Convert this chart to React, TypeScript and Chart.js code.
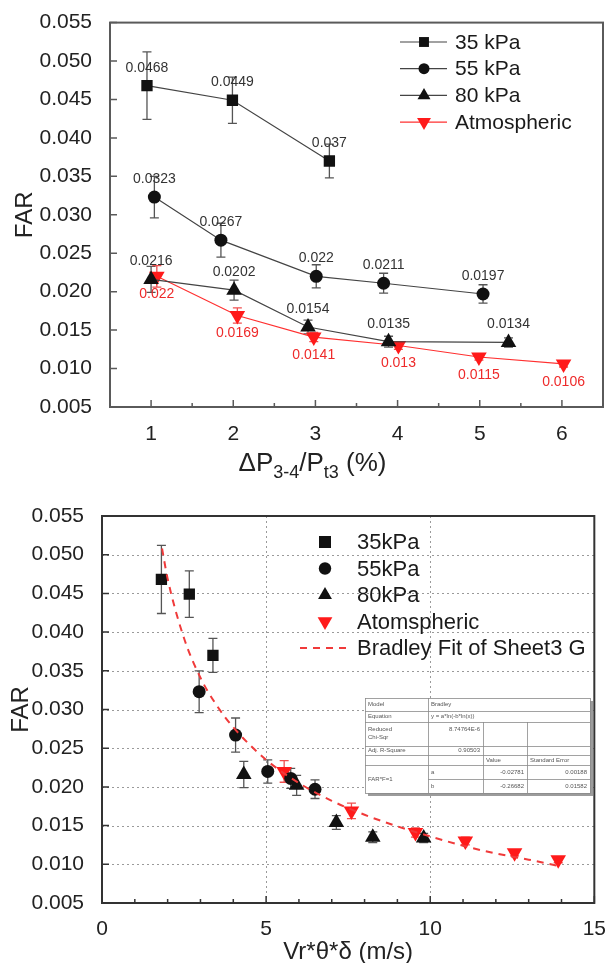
import React, { useEffect, useRef } from "react";
import { Chart, registerables } from "chart.js";

Chart.register(...registerables);

const FONT = '"Liberation Sans", Arial, Helvetica, sans-serif';

// ---- Upper panel: FAR vs. pressure-loss ratio ΔP3-4/Pt3 (%) ----
const dpRatio35 = [0.95, 1.99, 3.17];
const far35 = [0.0468, 0.0449, 0.037];
const err35 = [0.0044, 0.003, 0.0022];

const dpRatio55 = [1.04, 1.85, 3.01, 3.83, 5.04];
const far55 = [0.0323, 0.0267, 0.022, 0.0211, 0.0197];
const err55 = [0.0027, 0.0022, 0.0015, 0.0013, 0.0012];

const dpRatio80 = [1.0, 2.01, 2.91, 3.89, 5.35];
const far80 = [0.0216, 0.0202, 0.0154, 0.0135, 0.0134];
const err80 = [0.0017, 0.0013, 0.0009, 0.0007, 0.0006];

const dpRatioAtm = [1.07, 2.05, 2.98, 4.01, 4.99, 6.02];
const farAtm = [0.022, 0.0169, 0.0141, 0.013, 0.0115, 0.0106];
const errAtm = [0.0014, 0.001, 0.0006, 0.0005, 0.0004, 0.0004];

// ---- Lower panel: FAR vs. Vr*θ*δ (m/s) ----
const vel35 = [1.81, 2.66, 3.38];
const vel55 = [2.96, 4.07, 5.05, 5.75, 6.49];
const vel80 = [4.32, 5.93, 7.14, 8.25, 9.8];
const velAtm = [5.55, 7.6, 9.55, 11.07, 12.57, 13.9];

// Bradley fit curve, sampled along the plotted dashed line
const fitVel = [1.83, 2, 2.5, 3, 3.5, 4, 5, 6, 7, 8, 9, 10, 11, 12, 13, 13.9];
const fitFar = [0.0508, 0.0469, 0.0392, 0.0341, 0.0305, 0.0277, 0.0235, 0.0205, 0.0182, 0.0164, 0.0149, 0.0136, 0.0124, 0.0114, 0.0106, 0.0098];

// Axis ticks
const farTicks = [0.005, 0.01, 0.015, 0.02, 0.025, 0.03, 0.035, 0.04, 0.045, 0.05, 0.055];
const dpTicks = [1, 2, 3, 4, 5, 6];
const velTicks = [0, 5, 10, 15];
const velGrid = [5, 10];

// Series names
const topNames = ["35 kPa", "55 kPa", "80 kPa", "Atmospheric"];
const bottomNames = ["35kPa", "55kPa", "80kPa", "Atomspheric", "Bradley Fit of Sheet3 G"];

// Fit report
const fitModel = "Bradley";
const fitEquation = "y = a*ln(-b*ln(x))";
const fitChiSqr = "8.74764E-6";
const fitAdjR2 = "0.90503";
const fitDataName = "FAR*F=1";
const fitParams = ["a", "b"];
const fitValues = ["-0.02781", "-0.26682"];
const fitErrors = ["0.00188", "0.01582"];

const BLACK = "#111111";
const RED = "#ff1a1a";

type Shape = "rect" | "circle" | "triangle" | "triangleDown";

function drawMarker(ctx: CanvasRenderingContext2D, shape: Shape, x: number, y: number, r: number, color: string) {
  ctx.save();
  ctx.fillStyle = color;
  ctx.beginPath();
  if (shape === "rect") {
    const h = r * Math.SQRT1_2;
    ctx.rect(x - h, y - h, 2 * h, 2 * h);
  } else if (shape === "circle") {
    ctx.arc(x, y, r, 0, Math.PI * 2);
  } else {
    const rot = shape === "triangleDown" ? Math.PI : 0;
    for (let k = 0; k < 3; k++) {
      const a = rot + (k * 2 * Math.PI) / 3;
      const px = x + Math.sin(a) * r;
      const py = y - Math.cos(a) * r;
      if (k === 0) ctx.moveTo(px, py);
      else ctx.lineTo(px, py);
    }
  }
  ctx.closePath();
  ctx.fill();
  ctx.restore();
}

function shapeOf(ds: any): Shape {
  if (ds.pointStyle === "triangle" && ds.pointRotation === 180) return "triangleDown";
  return ds.pointStyle as Shape;
}

function series(
  label: string,
  xs: number[],
  ys: number[],
  errs: number[] | null,
  style: string,
  rotation: number,
  radius: number,
  color: string,
  lineColor: string,
  showLine: boolean,
  valueLabelPos: "above" | "below" | null
) {
  return {
    label,
    data: xs.map((x, i) => ({ x, y: ys[i] })),
    errors: errs,
    errorColor: color === RED ? "#f05050" : "#555555",
    valueLabelPos,
    valueLabelColor: color === RED ? "#ee2a2a" : "#333333",
    pointStyle: style,
    pointRotation: rotation,
    pointRadius: radius,
    pointHoverRadius: radius,
    pointBackgroundColor: color,
    pointBorderColor: color,
    pointBorderWidth: 0,
    borderColor: lineColor,
    backgroundColor: color,
    borderWidth: 1.2,
    showLine,
    tension: 0,
  };
}

// Error bars under every point of a dataset that carries an `errors` array
const errorBarPlugin = {
  id: "errorBars",
  beforeDatasetsDraw(chart: any) {
    const { ctx } = chart;
    const y = chart.scales.y;
    chart.data.datasets.forEach((ds: any, di: number) => {
      if (!ds.errors) return;
      const meta = chart.getDatasetMeta(di);
      ctx.save();
      ctx.strokeStyle = ds.errorColor;
      ctx.lineWidth = 1.3;
      meta.data.forEach((pt: any, i: number) => {
        const v = ds.data[i].y;
        const e = ds.errors[i];
        const top = y.getPixelForValue(v + e);
        const bot = y.getPixelForValue(v - e);
        ctx.beginPath();
        ctx.moveTo(pt.x, top);
        ctx.lineTo(pt.x, bot);
        ctx.moveTo(pt.x - 4.5, top);
        ctx.lineTo(pt.x + 4.5, top);
        ctx.moveTo(pt.x - 4.5, bot);
        ctx.lineTo(pt.x + 4.5, bot);
        ctx.stroke();
      });
      ctx.restore();
    });
  },
};

// Numeric value printed above / below each point
const valueLabelPlugin = {
  id: "valueLabels",
  afterDatasetsDraw(chart: any, _args: any, opts: any) {
    if (!opts || !opts.enabled) return;
    const { ctx } = chart;
    ctx.save();
    ctx.font = `${opts.fontSize}px ${FONT}`;
    ctx.textAlign = "center";
    ctx.textBaseline = "middle";
    chart.data.datasets.forEach((ds: any, di: number) => {
      if (!ds.valueLabelPos) return;
      const meta = chart.getDatasetMeta(di);
      ctx.fillStyle = ds.valueLabelColor;
      meta.data.forEach((pt: any, i: number) => {
        const dy = ds.valueLabelPos === "below" ? opts.offset : -opts.offset;
        ctx.fillText(String(ds.data[i].y), pt.x, pt.y + dy);
      });
    });
    ctx.restore();
  },
};

// Plot frame, inward ticks and optional dotted grid
const framePlugin = {
  id: "panelFrame",
  beforeDatasetsDraw(chart: any, _args: any, o: any) {
    const { ctx, chartArea: a } = chart;
    const xs = chart.scales.x;
    const ys = chart.scales.y;
    ctx.save();
    if (o.grid) {
      ctx.strokeStyle = "#9a9a9a";
      ctx.lineWidth = 1;
      ctx.setLineDash([2, 3]);
      ctx.beginPath();
      o.yGrid.forEach((v: number) => {
        const p = Math.round(ys.getPixelForValue(v)) + 0.5;
        ctx.moveTo(a.left, p);
        ctx.lineTo(a.right, p);
      });
      o.xGrid.forEach((v: number) => {
        const p = Math.round(xs.getPixelForValue(v)) + 0.5;
        ctx.moveTo(p, a.top);
        ctx.lineTo(p, a.bottom);
      });
      ctx.stroke();
      ctx.setLineDash([]);
    }
    ctx.strokeStyle = o.color;
    ctx.lineWidth = o.width;
    ctx.strokeRect(a.left, a.top, a.right - a.left, a.bottom - a.top);
    ctx.lineWidth = 1.5;
    ctx.beginPath();
    for (let v = xs.min; v <= xs.max + 1e-9; v += o.xMinor) {
      const p = xs.getPixelForValue(v);
      const major = o.xMajor.some((m: number) => Math.abs(m - v) < 1e-6);
      ctx.moveTo(p, a.bottom);
      ctx.lineTo(p, a.bottom - (major ? o.majorLen : o.minorLen));
    }
    o.yMajor.forEach((v: number) => {
      const p = ys.getPixelForValue(v);
      ctx.moveTo(a.left, p);
      ctx.lineTo(a.left + o.majorLen, p);
    });
    ctx.stroke();
    ctx.restore();
  },
};

// Axis titles (x title may carry subscripts)
const titlePlugin = {
  id: "axisTitles",
  afterDraw(chart: any, _args: any, o: any) {
    const { ctx, chartArea: a } = chart;
    ctx.save();
    ctx.fillStyle = "#222";
    ctx.font = `${o.size}px ${FONT}`;
    ctx.textBaseline = "middle";
    ctx.textAlign = "center";
    ctx.translate(o.yTitleX, (a.top + a.bottom) / 2);
    ctx.rotate(-Math.PI / 2);
    ctx.fillText(o.yTitle, 0, 0);
    ctx.restore();

    ctx.save();
    ctx.fillStyle = "#222";
    ctx.textBaseline = "alphabetic";
    ctx.textAlign = "left";
    const parts: { t: string; sub?: boolean }[] = o.xTitle;
    const xSize = o.xSize || o.size;
    const fontFor = (p: any) => `${p.sub ? o.subSize : xSize}px ${FONT}`;
    let total = 0;
    parts.forEach((p) => {
      ctx.font = fontFor(p);
      total += ctx.measureText(p.t).width;
    });
    let x = (a.left + a.right) / 2 - total / 2 + (o.xShift || 0);
    parts.forEach((p) => {
      ctx.font = fontFor(p);
      ctx.fillText(p.t, x, o.xTitleBaseline + (p.sub ? o.subDrop : 0));
      x += ctx.measureText(p.t).width;
    });
    ctx.restore();
  },
};

// Legend drawn inside the plot area
const legendPlugin = {
  id: "panelLegend",
  afterDraw(chart: any, _args: any, o: any) {
    const { ctx } = chart;
    ctx.save();
    ctx.font = `${o.fontSize}px ${FONT}`;
    ctx.textBaseline = "middle";
    ctx.textAlign = "left";
    o.entries.forEach((e: any, i: number) => {
      const ds = chart.data.datasets[e.ds];
      const y = o.top + i * o.rowH;
      if (e.line) {
        ctx.strokeStyle = ds.borderColor;
        ctx.lineWidth = e.lineWidth || 1.2;
        ctx.setLineDash(ds.borderDash || []);
        ctx.beginPath();
        ctx.moveTo(o.lineX0, y);
        ctx.lineTo(o.lineX1, y);
        ctx.stroke();
        ctx.setLineDash([]);
      }
      if (e.r > 0) drawMarker(ctx, shapeOf(ds), o.markerX, y, e.r, ds.pointBackgroundColor);
      ctx.fillStyle = "#1a1a1a";
      ctx.fillText(ds.label, o.textX, y + 1);
    });
    ctx.restore();
  },
};

// Fit report table inside the lower panel
const fitTablePlugin = {
  id: "fitTable",
  afterDatasetsDraw(chart: any, _args: any, o: any) {
    if (!o || !o.enabled) return;
    const { ctx, chartArea: a } = chart;
    const L = a.left + o.dx;
    const T = a.top + o.dy;
    const cols = [0, 63, 118, 162, 225].map((c) => L + c);
    const rows = [0, 13, 24, 48, 57, 67, 81, 95].map((r) => T + r);
    const R = cols[4];
    const B = rows[7];
    ctx.save();
    ctx.fillStyle = "#9c9c9c";
    ctx.fillRect(L + 3, T + 3, R - L, B - T);
    ctx.fillStyle = "#ffffff";
    ctx.fillRect(L, T, R - L, B - T);
    ctx.strokeStyle = "#8a8a8a";
    ctx.lineWidth = 0.8;
    ctx.strokeRect(L + 0.5, T + 0.5, R - L, B - T);
    ctx.beginPath();
    const h = (y: number, x0: number, x1: number) => { ctx.moveTo(x0, y + 0.5); ctx.lineTo(x1, y + 0.5); };
    const v = (x: number, y0: number, y1: number) => { ctx.moveTo(x + 0.5, y0); ctx.lineTo(x + 0.5, y1); };
    h(rows[1], L, R);
    h(rows[2], L, R);
    h(rows[3], L, R);
    h(rows[4], L, R);
    h(rows[5], L, R);
    h(rows[6], cols[1], R);
    v(cols[1], T, B);
    v(cols[2], rows[2], B);
    v(cols[3], rows[2], B);
    ctx.stroke();

    ctx.fillStyle = "#555";
    ctx.font = `6px ${FONT}`;
    ctx.textBaseline = "middle";
    const mid = (i: number) => (rows[i] + rows[i + 1]) / 2;
    const left = (t: string, x: number, y: number) => { ctx.textAlign = "left"; ctx.fillText(t, x + 3, y); };
    const right = (t: string, x: number, y: number) => { ctx.textAlign = "right"; ctx.fillText(t, x - 3, y); };
    left("Model", cols[0], mid(0));
    left(fitModel, cols[1], mid(0));
    left("Equation", cols[0], mid(1));
    left(fitEquation, cols[1], mid(1));
    left("Reduced", cols[0], rows[2] + 7);
    left("Chi-Sqr", cols[0], rows[2] + 15);
    right(fitChiSqr, cols[2], rows[2] + 7);
    left("Adj. R-Square", cols[0], mid(3));
    right(fitAdjR2, cols[2], mid(3));
    left("Value", cols[2], mid(4));
    left("Standard Error", cols[3], mid(4));
    left(fitDataName, cols[0], (rows[5] + rows[7]) / 2);
    fitParams.forEach((p, i) => {
      left(p, cols[1], mid(5 + i));
      right(fitValues[i], cols[3], mid(5 + i));
      right(fitErrors[i], cols[4], mid(5 + i));
    });
    ctx.restore();
  },
};

const tickFont = { family: FONT, size: 21 };

function topConfig(): any {
  return {
    type: "scatter",
    data: {
      datasets: [
        series(topNames[0], dpRatio35, far35, err35, "rect", 0, 8, BLACK, "#444", true, "above"),
        series(topNames[1], dpRatio55, far55, err55, "circle", 0, 6.5, BLACK, "#444", true, "above"),
        series(topNames[2], dpRatio80, far80, err80, "triangle", 0, 9, BLACK, "#444", true, "above"),
        series(topNames[3], dpRatioAtm, farAtm, errAtm, "triangle", 180, 9, RED, "#ff3030", true, "below"),
      ],
    },
    options: {
      responsive: false,
      animation: false,
      devicePixelRatio: 1,
      layout: { padding: { top: 13, right: 9, left: 0, bottom: 0 } },
      plugins: {
        legend: { display: false },
        tooltip: { enabled: false },
        valueLabels: { enabled: true, fontSize: 14, offset: 18 },
        panelFrame: {
          color: "#5a5a5a", width: 2, grid: false,
          xMinor: 0.5, xMajor: dpTicks, yMajor: farTicks, majorLen: 7, minorLen: 4,
        },
        axisTitles: {
          size: 24, xSize: 26, subSize: 18, subDrop: 7, yTitle: "FAR", yTitleX: 25,
          xTitle: [{ t: "ΔP" }, { t: "3-4", sub: true }, { t: "/P" }, { t: "t3", sub: true }, { t: " (%)" }],
          xTitleBaseline: 471, xShift: -44,
        },
        panelLegend: {
          fontSize: 21, top: 42, rowH: 26.7, lineX0: 400, lineX1: 447, markerX: 424, textX: 455,
          entries: [
            { ds: 0, r: 7, line: true },
            { ds: 1, r: 5.5, line: true },
            { ds: 2, r: 7.5, line: true },
            { ds: 3, r: 8, line: true },
          ],
        },
      },
      scales: {
        x: {
          type: "linear", min: 0.5, max: 6.5,
          grid: { display: false }, border: { display: false },
          ticks: { font: tickFont, color: "#222", padding: 7, autoSkip: false, maxRotation: 0, callback: (v: any) => String(v) },
          afterBuildTicks: (s: any) => { s.ticks = dpTicks.map((value) => ({ value })); },
          afterFit: (s: any) => { s.height = 73; },
        },
        y: {
          type: "linear", min: 0.005, max: 0.055,
          grid: { display: false }, border: { display: false },
          ticks: { font: tickFont, color: "#222", padding: 10, autoSkip: false, callback: (v: any) => Number(v).toFixed(3) },
          afterBuildTicks: (s: any) => { s.ticks = farTicks.map((value) => ({ value })); },
          afterFit: (s: any) => { s.width = 110; },
        },
      },
    },
    plugins: [framePlugin, errorBarPlugin, valueLabelPlugin, titlePlugin, legendPlugin],
  };
}

function bottomConfig(): any {
  const fit = {
    label: bottomNames[4],
    data: fitVel.map((x, i) => ({ x, y: fitFar[i] })),
    showLine: true,
    borderColor: "#f03a3a",
    borderWidth: 2,
    borderDash: [7, 6],
    pointRadius: 0,
    pointStyle: false,
    cubicInterpolationMode: "monotone",
    errors: null,
  };
  return {
    type: "scatter",
    data: {
      datasets: [
        fit,
        series(bottomNames[0], vel35, far35, err35, "rect", 0, 8, BLACK, BLACK, false, null),
        series(bottomNames[1], vel55, far55, err55, "circle", 0, 6.5, BLACK, BLACK, false, null),
        series(bottomNames[2], vel80, far80, err80, "triangle", 0, 9, BLACK, BLACK, false, null),
        series(bottomNames[3], velAtm, farAtm, errAtm, "triangle", 180, 9, RED, RED, false, null),
      ],
    },
    options: {
      responsive: false,
      animation: false,
      devicePixelRatio: 1,
      layout: { padding: { top: 36, right: 14, left: 0, bottom: 0 } },
      plugins: {
        legend: { display: false },
        tooltip: { enabled: false },
        panelFrame: {
          color: "#333", width: 2, grid: true, yGrid: farTicks, xGrid: velGrid,
          xMinor: 1, xMajor: velTicks, yMajor: farTicks, majorLen: 7, minorLen: 4,
        },
        axisTitles: {
          size: 24, subSize: 16, subDrop: 6, yTitle: "FAR", yTitleX: 21,
          xTitle: [{ t: "Vr*θ*δ (m/s)" }],
          xTitleBaseline: 479,
        },
        panelLegend: {
          fontSize: 22, top: 62, rowH: 26.5, lineX0: 300, lineX1: 350, markerX: 325, textX: 357,
          entries: [
            { ds: 1, r: 8.5 },
            { ds: 2, r: 6.2 },
            { ds: 3, r: 8 },
            { ds: 4, r: 8.5 },
            { ds: 0, r: 0, line: true, lineWidth: 2 },
          ],
        },
        fitTable: { enabled: true, dx: 263, dy: 182 },
      },
      scales: {
        x: {
          type: "linear", min: 0, max: 15,
          grid: { display: false }, border: { display: false },
          ticks: { font: tickFont, color: "#222", padding: 6, autoSkip: false, maxRotation: 0, callback: (v: any) => String(v) },
          afterBuildTicks: (s: any) => { s.ticks = velTicks.map((value) => ({ value })); },
          afterFit: (s: any) => { s.height = 60; },
        },
        y: {
          type: "linear", min: 0.005, max: 0.055,
          grid: { display: false }, border: { display: false },
          ticks: { font: tickFont, color: "#222", padding: 10, autoSkip: false, callback: (v: any) => Number(v).toFixed(3) },
          afterBuildTicks: (s: any) => { s.ticks = farTicks.map((value) => ({ value })); },
          afterFit: (s: any) => { s.width = 102; },
        },
      },
    },
    plugins: [framePlugin, errorBarPlugin, fitTablePlugin, titlePlugin, legendPlugin],
  };
}

function Panel({ width, height, makeConfig }: { width: number; height: number; makeConfig: () => any }) {
  const ref = useRef<HTMLCanvasElement>(null);
  useEffect(() => {
    if (!ref.current) return;
    const chart = new Chart(ref.current, makeConfig());
    return () => chart.destroy();
  }, [makeConfig]);
  return <canvas ref={ref} width={width} height={height} style={{ display: "block", width, height }} />;
}

export default function App() {
  return (
    <div style={{ position: "absolute", left: 0, top: 0, width: 612, height: 963, background: "#ffffff" }}>
      <Panel width={612} height={480} makeConfig={topConfig} />
      <Panel width={612} height={483} makeConfig={bottomConfig} />
    </div>
  );
}
